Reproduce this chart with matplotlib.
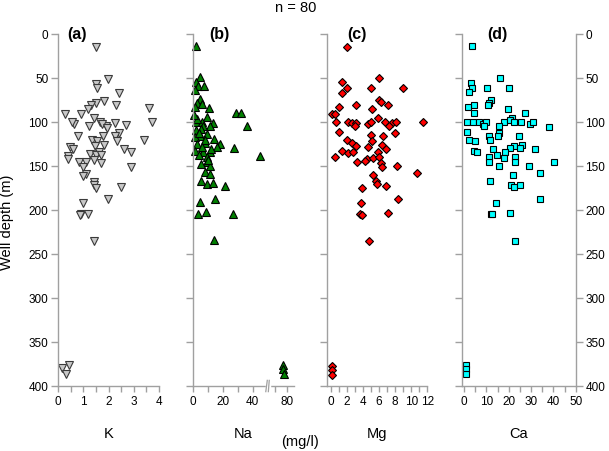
import numpy as np
import matplotlib.pyplot as plt
from matplotlib.ticker import FixedLocator

plt.rcParams['font.family'] = ['Liberation Sans', 'DejaVu Sans']

# K (mg/l) vs well depth (m)
k_conc = [1.50, 1.52, 1.56, 1.98, 2.41, 1.81, 1.50, 1.29, 1.19, 2.29, 3.61, 0.29, 0.90, 0.62, 0.57,
          1.23, 1.43, 1.65, 1.89, 2.25, 2.69, 3.72, 0.79, 1.79, 2.42, 2.25, 2.32, 3.40, 1.36, 1.56,
          1.81, 1.46, 0.49, 0.60, 1.63, 2.61, 2.91, 0.40, 1.26, 1.52, 1.72, 1.42, 0.40, 0.82, 1.10,
          1.72, 0.99, 2.91, 1.10, 0.99, 1.42, 1.42, 1.52, 2.51, 1.98, 0.99, 0.93, 1.19, 0.86, 1.42,
          1.75, 1.95, 0.15, 0.42, 0.31]
k_depth = [15, 57, 61, 51, 67, 76, 78, 81, 85, 81, 84, 91, 91, 102, 100,
           105, 95, 100, 104, 101, 103, 100, 116, 116, 112, 116, 122, 121, 121, 122,
           126, 127, 128, 131, 134, 131, 134, 139, 136, 138, 138, 143, 142, 146, 146,
           147, 151, 151, 159, 161, 168, 172, 175, 174, 188, 192, 205, 205, 206, 235,
           102, 107, 380, 376, 386]

# Na
na_conc = [2.2, 4.9, 2.2, 3.8, 7.5, 1.5, 4.9, 2.6, 6.0, 10.9, 1.5, 28.6, 32.2, 9.3, 2.2,
           6.0, 13.3, 36.4, 11.5, 7.1, 2.2, 9.3, 4.9, 1.5, 14.2, 8.2, 18.2, 16.0, 2.6, 27.8,
           1.5, 7.1, 11.5, 44.9, 4.4, 9.8, 9.3, 5.3, 11.5, 8.2, 11.5, 5.3, 9.3, 13.3, 21.5,
           14.9, 4.9, 3.8, 8.9, 27.1, 14.2,
           3.0, 5.5, 8.0, 12.0, 10.0, 4.0, 6.5, 1.0, 76, 76, 77]
na_depth = [14, 49, 54, 59, 59, 64, 74, 78, 80, 84, 83, 90, 90, 94, 100,
            100, 101, 104, 104, 104, 109, 114, 116, 117, 119, 124, 125, 128, 125, 129,
            133, 134, 134, 139, 138, 140, 145, 148, 150, 157, 159, 167, 170, 169, 173,
            187, 191, 205, 202, 204, 234,
            97, 108, 120, 131, 143, 112, 128, 92, 376, 381, 386]

# Mg
mg_conc = [1.95, 6.02, 1.41, 1.95, 1.41, 4.98, 9.01, 5.98, 6.23, 7.14, 3.07, 1.04, 5.15, 0.08, 0.50,
           5.90, 0.62, 2.16, 2.57, 3.11, 4.57, 4.94, 6.72, 7.56, 8.09, 11.5, 2.99, 7.26, 7.97, 1.04,
           4.94, 6.43, 1.95, 5.07, 2.57, 3.11, 4.65, 6.31, 6.85, 1.33, 2.08, 2.78, 5.82, 0.50, 4.45,
           5.27, 6.02, 3.28, 4.23, 6.23, 6.31, 8.26, 10.75, 5.27, 5.6, 5.69, 6.85, 3.90, 8.31, 3.74,
           3.61, 3.90, 7.14, 4.73, 0.1, 0.1, 0.1]
mg_depth = [15, 50, 55, 61, 67, 61, 61, 75, 77, 81, 81, 83, 85, 91, 91,
            95, 100, 100, 101, 101, 102, 100, 100, 101, 100, 100, 105, 105, 112, 111,
            115, 116, 120, 122, 124, 127, 128, 126, 131, 133, 135, 134, 134, 140, 142,
            141, 140, 145, 144, 147, 151, 150, 158, 160, 167, 170, 173, 175, 188, 192,
            205, 206, 203, 235, 377, 382, 387]

# Ca
ca_conc = [3.5, 3.0, 3.5, 2.4, 15.9, 10.2, 20.0, 12.0, 11.0, 10.7, 4.6, 1.9, 19.7, 4.6, 27.5,
           21.5, 1.2, 4.2, 6.5, 8.7, 9.8, 17.7, 20.4, 22.2, 25.5, 29.4, 30.9, 38.0, 9.1, 15.5,
           15.5, 1.5, 11.3, 15.0, 24.5, 2.4, 5.0, 11.7, 26.0, 22.2, 20.7, 24.9, 12.8, 32.0, 4.6,
           6.0, 18.5, 14.7, 11.0, 18.0, 23.0, 23.0, 11.0, 40.2, 15.8, 29.0, 21.9, 33.8, 11.7, 21.0,
           22.5, 24.9, 33.9, 14.4, 12.0, 12.5, 20.4, 22.7, 0.8, 0.8, 0.8]
ca_depth = [14, 56, 61, 66, 50, 61, 61, 75, 78, 81, 81, 83, 85, 90, 90,
            95, 100, 100, 100, 102, 100, 100, 98, 100, 100, 102, 100, 106, 105, 105,
            112, 111, 116, 116, 116, 120, 122, 121, 126, 127, 130, 129, 131, 131, 133,
            134, 134, 138, 140, 141, 140, 146, 146, 145, 150, 150, 160, 158, 167, 172,
            174, 172, 188, 192, 205, 204, 203, 235, 376, 381, 386]

ions = ['K', 'Na', 'Mg', 'Ca']
panel_tags = ['(a)', '(b)', '(c)', '(d)']
depth_ticks = [0, 50, 100, 150, 200, 250, 300, 350, 400]


# broken Na axis: 51..65 squeezed out, compressed after the break
def na_fwd(v):
    return np.interp(v, [-100, 51, 65, 200], [-100, 51, 51.1, 51.1 + 135 * 0.8])


def na_inv(u):
    return np.interp(u, [-100, 51, 51.1, 51.1 + 135 * 0.8], [-100, 51, 65, 200])


W, H = 609, 452
fig = plt.figure(figsize=(W / 100, H / 100), dpi=100)

# axes boxes in pixels: left, width
boxes = [(58, 101), (192.7, 101.3), (327.3, 100), (462, 113.7)]
top_px, bot_px = 35, 387
gray = '#a0a0a0'

axes = []
for left, width in boxes:
    ax = fig.add_axes([left / W, 1 - bot_px / H, width / W, (bot_px - top_px) / H])
    axes.append(ax)

styles = [
    dict(marker='v', ms=6.4, mfc='#c8c8c8', mec='#3a3a3a'),
    dict(marker='^', ms=6.4, mfc='#008000', mec='black'),
    dict(marker='D', ms=4.4, mfc='#ff0000', mec='black'),
    dict(marker='s', ms=4.7, mfc='#00ffff', mec='black'),
]
data = [(k_conc, k_depth), (na_conc, na_depth), (mg_conc, mg_depth), (ca_conc, ca_depth)]
xlims = [(0, 4), (0, 85.5), (-0.46, 12), (-0.9, 50)]
majors = [[0, 1, 2, 3, 4], [0, 20, 40, 80], [0, 2, 4, 6, 8, 10, 12], [0, 10, 20, 30, 40, 50]]
minors = [[0.5, 1.5, 2.5, 3.5], [10, 30, 70], [1, 3, 5, 7, 9, 11], [5, 15, 25, 35, 45]]
tag_offsets = [9, 17, 20, 25]

for i, ax in enumerate(axes):
    if i == 1:
        ax.set_xscale('function', functions=(na_fwd, na_inv))
    x, y = data[i]
    ax.plot(x, y, ls='none', mew=0.8, clip_on=False, **styles[i])
    ax.set_xlim(*xlims[i])
    ax.set_ylim(400, 0)
    ax.xaxis.set_major_locator(FixedLocator(majors[i]))
    ax.xaxis.set_minor_locator(FixedLocator(minors[i]))
    ax.yaxis.set_major_locator(FixedLocator(depth_ticks))
    ax.spines['top'].set_visible(False)
    ax.spines['right'].set_visible(i == 3)
    for s in ax.spines.values():
        s.set_color(gray)
        s.set_linewidth(1.0)
    ax.tick_params(which='both', direction='out', color=gray, width=1.0, labelsize=8.5)
    ax.tick_params(axis='x', which='both', length=4, pad=2.5)
    ax.tick_params(axis='y', length=5, pad=2)
    ax.tick_params(axis='y', labelleft=(i == 0))
    if i == 3:
        ax.tick_params(axis='y', right=True, labelright=True)
    ax.set_xlabel(ions[i], fontsize=10.5, labelpad=14)
    fig.text((boxes[i][0] + tag_offsets[i]) / W, 1 - 34 / H, panel_tags[i],
             fontsize=11.5, fontweight='bold', va='center', ha='left')

# break marks on the Na axis
axn = axes[1]
tr = axn.get_xaxis_transform()
axn.plot([49.6, 51.0], [0, 0], color='white', lw=2.5, transform=tr, clip_on=False, zorder=5)
for xb in [49.2, 50.9]:
    axn.plot([xb - 0.5, xb + 0.5], [-0.016, 0.016], color=gray, lw=0.9, transform=tr,
             clip_on=False, zorder=6)

fig.text(7 / W, 1 - 222 / H, 'Well depth (m)', fontsize=10.5, rotation=90,
         ha='center', va='center')
fig.text(296 / W, 1 - 8 / H, 'n = 80', fontsize=10.5, ha='center', va='center')
fig.text(300 / W, 1 - 442 / H, '(mg/l)', fontsize=10.5, ha='center', va='center')

fig.savefig('out.png', dpi=100)
